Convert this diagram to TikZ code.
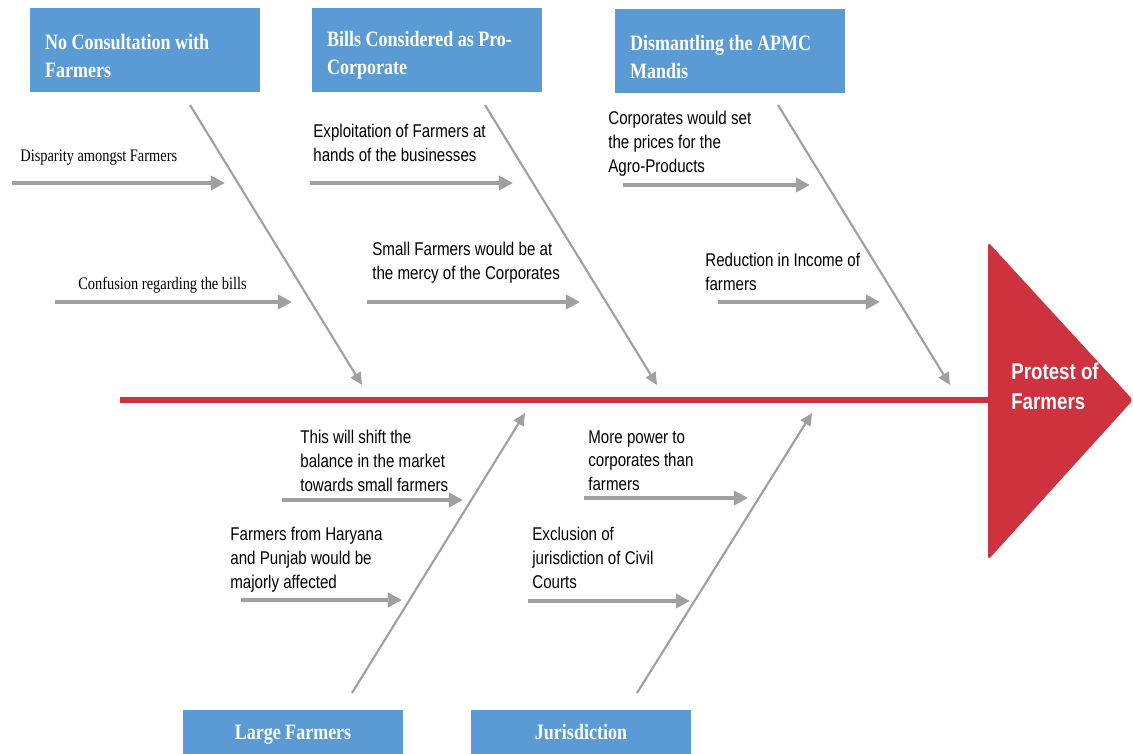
\documentclass[tikz,border=0pt]{standalone}
\usepackage{fontspec}
\setmainfont{Liberation Sans}[FakeStretch=0.82]
\newfontfamily\causefont{Liberation Serif}[FakeStretch=0.82]
\usetikzlibrary{arrows.meta}
\definecolor{boxblue}{HTML}{5B9BD5}
\definecolor{spinered}{HTML}{CD323E}
\definecolor{bonegray}{HTML}{A0A0A0}
\newcommand{\topstrut}{\rule{0pt}{15pt}}

\begin{document}
\begin{tikzpicture}[x=0.02cm, y=-0.02cm,
  every node/.style={inner sep=0pt},
  catbox/.style={fill=boxblue, text=white, font=\causefont\bfseries\fontsize{12.5}{16}\selectfont,
    align=flush left, text width=4.0cm, inner xsep=0.3cm, minimum height=1.7cm},
  lowbox/.style={fill=boxblue, text=white, font=\causefont\bfseries\fontsize{12.5}{16}\selectfont,
    align=center, minimum width=4.4cm, minimum height=0.88cm},
  lbl/.style={anchor=north west, align=left, font=\fontsize{10.5}{13.6}\selectfont},
  serlbl/.style={anchor=north west, font=\causefont\fontsize{10}{12}\selectfont},
  bone/.style={draw=bonegray, line width=1.2pt, -{Triangle[length=7pt,width=6.5pt]}},
  twig/.style={draw=bonegray, line width=2pt, -{Triangle[length=8pt,width=8pt]}},
  spine/.style={draw=spinered, line width=3.4pt}]
  \useasboundingbox (0,0) rectangle (1133,754);
  % categories
  \node[catbox] (consult) at (145,50) {\topstrut No Consultation with\\Farmers};
  \node[catbox] (procorp) at (427,50) {\topstrut Bills Considered as Pro-\\Corporate};
  \node[catbox] (apmc) at (730,51) {\topstrut Dismantling the APMC\\Mandis};
  \node[lowbox] (large) at (293,732) {\rule{0pt}{11pt}Large Farmers};
  \node[lowbox] (juris) at (581,732) {Jurisdiction};
  % head and spine
  \fill[spinered, rounded corners=2pt] (988,242) -- (1133,400) -- (988,560) -- cycle;
  \node[text=white, align=left, font=\bfseries\fontsize{13}{17}\selectfont] (effect) at (1055,386) {Protest of\\Farmers};
  \coordinate (tail) at (120,400);
  \coordinate (headbase) at (992,400);
  \draw[spine] (tail) -- (headbase);
  % bones
  \coordinate (c1s) at (190,105); \coordinate (c1e) at (362,385);
  \coordinate (c2s) at (485,105); \coordinate (c2e) at (657,385);
  \coordinate (c3s) at (778,105); \coordinate (c3e) at (950,385);
  \coordinate (c4s) at (352,693); \coordinate (c4e) at (525,413);
  \coordinate (c5s) at (637,693); \coordinate (c5e) at (812,413);
  \draw[bone] (c1s) -- (c1e);
  \draw[bone] (c2s) -- (c2e);
  \draw[bone] (c3s) -- (c3e);
  \draw[bone] (c4s) -- (c4e);
  \draw[bone] (c5s) -- (c5e);
  % causes
  \node[serlbl] (disp) at (20,150) {Disparity amongst Farmers};
  \node[serlbl] (conf) at (78,277) {Confusion regarding the bills};
  \node[lbl] (exploit) at (313,124) {Exploitation of Farmers at\\hands of the businesses};
  \node[lbl] (mercy) at (372,242) {Small Farmers would be at\\the mercy of the Corporates};
  \node[lbl] (prices) at (608,111) {Corporates would set\\the prices for the\\Agro-Products};
  \node[lbl] (income) at (705,253) {Reduction in Income of\\farmers};
  \node[lbl] (shift) at (300,430) {This will shift the\\balance in the market\\towards small farmers};
  \node[lbl] (haryana) at (230,527) {Farmers from Haryana\\and Punjab would be\\majorly affected};
  \node[lbl] (power) at (588,430) {More power to\\corporates than\\farmers};
  \node[lbl] (courts) at (532,527) {Exclusion of\\jurisdiction of Civil\\Courts};
  \coordinate (t1s) at (12,183);  \coordinate (t1e) at (225,183);
  \coordinate (t2s) at (55,302);  \coordinate (t2e) at (292,302);
  \coordinate (t3s) at (310,183); \coordinate (t3e) at (513,183);
  \coordinate (t4s) at (367,302); \coordinate (t4e) at (580,302);
  \coordinate (t5s) at (623,185); \coordinate (t5e) at (810,185);
  \coordinate (t6s) at (718,302); \coordinate (t6e) at (880,302);
  \coordinate (t7s) at (282,500); \coordinate (t7e) at (463,500);
  \coordinate (t8s) at (241,600); \coordinate (t8e) at (402,600);
  \coordinate (t9s) at (584,498); \coordinate (t9e) at (748,498);
  \coordinate (t10s) at (528,601); \coordinate (t10e) at (690,601);
  \draw[twig] (t1s) -- (t1e);
  \draw[twig] (t2s) -- (t2e);
  \draw[twig] (t3s) -- (t3e);
  \draw[twig] (t4s) -- (t4e);
  \draw[twig] (t5s) -- (t5e);
  \draw[twig] (t6s) -- (t6e);
  \draw[twig] (t7s) -- (t7e);
  \draw[twig] (t8s) -- (t8e);
  \draw[twig] (t9s) -- (t9e);
  \draw[twig] (t10s) -- (t10e);
\end{tikzpicture}
\end{document}
